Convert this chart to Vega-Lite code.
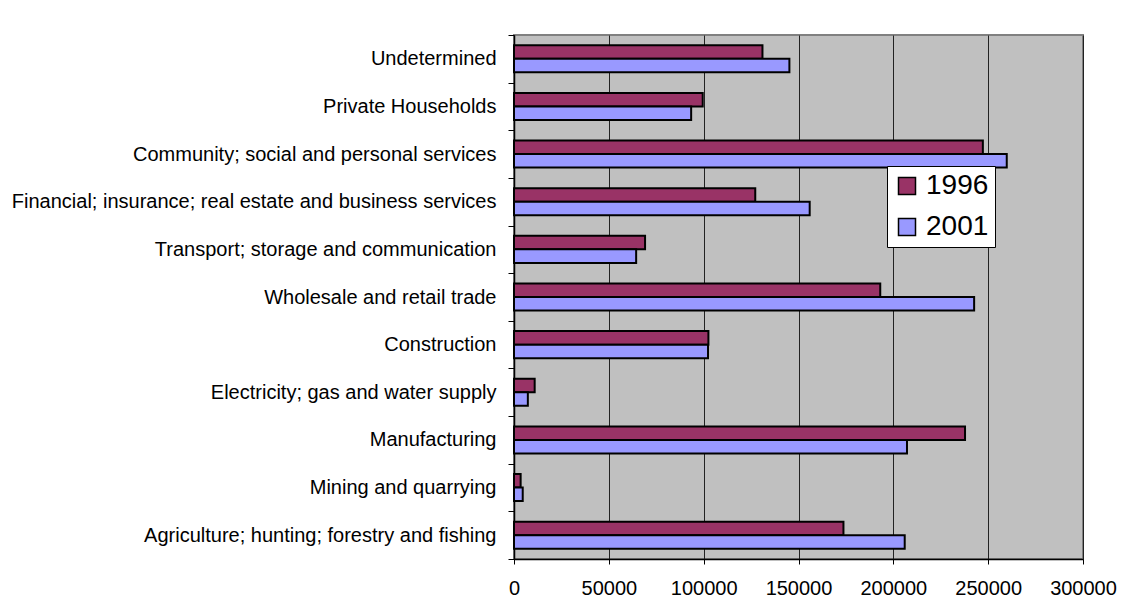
{
  "$schema": "https://vega.github.io/schema/vega-lite/v6.json",
  "autosize": {"type": "none"},
  "width": 569,
  "height": 524,
  "padding": {"left": 514, "top": 35, "right": 48, "bottom": 42},
  "background": "white",
  "data": {
    "values": [
      {"category": "Undetermined", "year": "1996", "value": 131000},
      {"category": "Undetermined", "year": "2001", "value": 145200},
      {"category": "Private Households", "year": "1996", "value": 99500},
      {"category": "Private Households", "year": "2001", "value": 93400},
      {"category": "Community; social and personal services", "year": "1996", "value": 247200},
      {"category": "Community; social and personal services", "year": "2001", "value": 259800},
      {"category": "Financial; insurance; real estate and business services", "year": "1996", "value": 127200},
      {"category": "Financial; insurance; real estate and business services", "year": "2001", "value": 155900},
      {"category": "Transport; storage and communication", "year": "1996", "value": 69100},
      {"category": "Transport; storage and communication", "year": "2001", "value": 64400},
      {"category": "Wholesale and retail trade", "year": "1996", "value": 193100},
      {"category": "Wholesale and retail trade", "year": "2001", "value": 242600},
      {"category": "Construction", "year": "1996", "value": 102500},
      {"category": "Construction", "year": "2001", "value": 102300},
      {"category": "Electricity; gas and water supply", "year": "1996", "value": 10900},
      {"category": "Electricity; gas and water supply", "year": "2001", "value": 7300},
      {"category": "Manufacturing", "year": "1996", "value": 237800},
      {"category": "Manufacturing", "year": "2001", "value": 207200},
      {"category": "Mining and quarrying", "year": "1996", "value": 3500},
      {"category": "Mining and quarrying", "year": "2001", "value": 4600},
      {"category": "Agriculture; hunting; forestry and fishing", "year": "1996", "value": 173700},
      {"category": "Agriculture; hunting; forestry and fishing", "year": "2001", "value": 206000}
    ]
  },
  "mark": {"type": "bar", "stroke": "#000000", "strokeWidth": 2},
  "encoding": {
    "y": {
      "field": "category",
      "type": "nominal",
      "sort": [
        "Undetermined",
        "Private Households",
        "Community; social and personal services",
        "Financial; insurance; real estate and business services",
        "Transport; storage and communication",
        "Wholesale and retail trade",
        "Construction",
        "Electricity; gas and water supply",
        "Manufacturing",
        "Mining and quarrying",
        "Agriculture; hunting; forestry and fishing"
      ],
      "scale": {"paddingInner": 0, "paddingOuter": 0},
      "axis": {
        "title": null,
        "tickBand": "extent",
        "grid": false,
        "domainColor": "#000000",
        "domainWidth": 1.5,
        "tickColor": "#000000",
        "tickWidth": 1,
        "tickSize": 6,
        "labelPadding": 12,
        "labelFont": "Liberation Sans",
        "labelFontSize": 20,
        "labelColor": "#000000",
        "labelLimit": 600
      }
    },
    "yOffset": {
      "field": "year",
      "type": "nominal",
      "sort": ["1996", "2001"],
      "scale": {"paddingInner": 0, "paddingOuter": 0.76}
    },
    "x": {
      "field": "value",
      "type": "quantitative",
      "scale": {"domain": [0, 300000], "nice": false},
      "axis": {
        "title": null,
        "values": [0, 50000, 100000, 150000, 200000, 250000, 300000],
        "format": "d",
        "grid": true,
        "gridColor": "#222222",
        "gridWidth": 1,
        "gridOpacity": 1,
        "domainColor": "#000000",
        "domainWidth": 1.5,
        "tickColor": "#000000",
        "tickSize": 5,
        "labelPadding": 14,
        "labelFlush": false,
        "labelFont": "Liberation Sans",
        "labelFontSize": 20,
        "labelColor": "#000000"
      }
    },
    "color": {
      "field": "year",
      "type": "nominal",
      "scale": {"domain": ["1996", "2001"], "range": ["#993366", "#9999FF"]},
      "legend": {
        "title": null,
        "orient": "none",
        "legendX": 373,
        "legendY": 131,
        "fillColor": "#FFFFFF",
        "strokeColor": "#000000",
        "padding": 6,
        "rowPadding": 13,
        "symbolType": "square",
        "symbolSize": 289,
        "symbolStrokeColor": "#000000",
        "symbolStrokeWidth": 1.5,
        "labelFont": "Liberation Sans",
        "labelFontSize": 28,
        "labelColor": "#000000",
        "labelOffset": 5
      }
    }
  },
  "config": {
    "view": {"fill": "#C0C0C0", "stroke": "#808080", "strokeWidth": 2}
  }
}
